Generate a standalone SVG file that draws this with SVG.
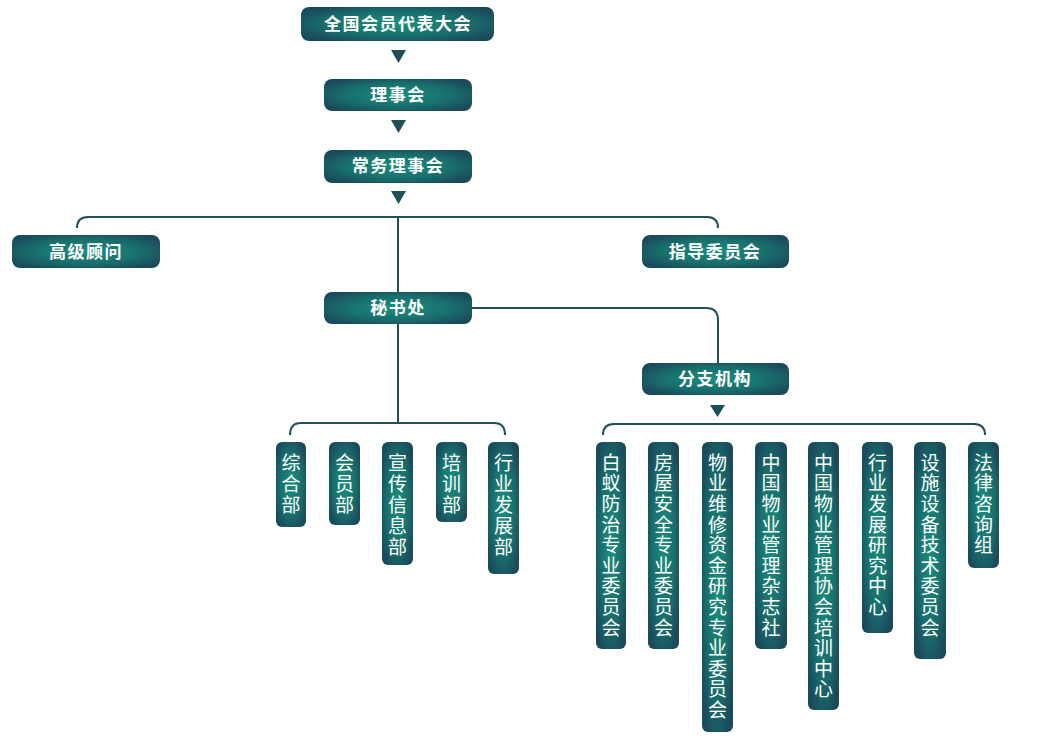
<svg xmlns="http://www.w3.org/2000/svg" width="1053" height="753" viewBox="0 0 1053 753">
<defs>
<radialGradient id="g" cx="0.5" cy="0.5" r="0.6">
<stop offset="0" stop-color="#1a8e7d"/>
<stop offset="0.6" stop-color="#196f6c"/>
<stop offset="1" stop-color="#1a4a5c"/>
</radialGradient>
<style>
.n{fill:url(#g);}
.t{fill:#fff;font-family:"Noto Sans CJK SC","Noto Sans",sans-serif;font-size:17px;font-weight:bold;letter-spacing:1.5px;text-anchor:middle;}
.v{fill:#fff;font-family:"Noto Sans CJK SC","Noto Sans",sans-serif;font-size:19px;font-weight:normal;writing-mode:vertical-rl;text-orientation:upright;text-anchor:start;}
.l{letter-spacing:2px;}
.r{letter-spacing:1.6px;}
.c{fill:none;stroke:#1f4f57;stroke-width:2;}
.a{fill:#1f4f57;}
</style>
</defs>
<rect width="1053" height="753" fill="#fff"/>
<g id="connectors">
<polygon class="a" points="391,50 406,50 398.5,63"/>
<polygon class="a" points="391,120 406,120 398.5,133"/>
<polygon class="a" points="391,191 406,191 398.5,204"/>
<polygon class="a" points="710,405 725,405 717.5,417"/>
<path class="c" d="M77,228 Q77,217 88,217 H707 Q718,217 718,228"/>
<path class="c" d="M398,217 V292"/>
<path class="c" d="M398,324 V423"/>
<path class="c" d="M290,435 Q290,423 301,423 H494 Q505,423 505,435"/>
<path class="c" d="M472,308 H706 Q718,308 718,320 V363"/>
<path class="c" d="M603,435 Q603,424 614,424 H974 Q985,424 985,435"/>
</g>
<g id="n1"><rect class="n" x="301" y="7" width="193" height="34" rx="8"/><text class="t" x="398" y="30">全国会员代表大会</text></g>
<g id="n2"><rect class="n" x="324" y="79" width="148" height="32" rx="8"/><text class="t" x="398" y="101">理事会</text></g>
<g id="n3"><rect class="n" x="324" y="150" width="148" height="33" rx="8"/><text class="t" x="398" y="172">常务理事会</text></g>
<g id="n4"><rect class="n" x="12" y="235" width="148" height="33" rx="8"/><text class="t" x="86" y="258">高级顾问</text></g>
<g id="n5"><rect class="n" x="642" y="235" width="147" height="33" rx="8"/><text class="t" x="715" y="258">指导委员会</text></g>
<g id="n6"><rect class="n" x="324" y="292" width="148" height="32" rx="8"/><text class="t" x="398" y="314">秘书处</text></g>
<g id="n7"><rect class="n" x="642" y="363" width="147" height="32" rx="8"/><text class="t" x="715" y="385">分支机构</text></g>

<g id="d1"><rect class="n" x="276" y="442" width="30" height="85" rx="6"/><text class="v l" x="291" y="453">综合部</text></g>
<g id="d2"><rect class="n" x="329" y="442" width="31" height="83" rx="6"/><text class="v l" x="344.5" y="453">会员部</text></g>
<g id="d3"><rect class="n" x="382" y="442" width="31" height="123" rx="6"/><text class="v l" x="397.5" y="453">宣传信息部</text></g>
<g id="d4"><rect class="n" x="436" y="442" width="31" height="80" rx="6"/><text class="v l" x="451.5" y="453">培训部</text></g>
<g id="d5"><rect class="n" x="488" y="442" width="31" height="132" rx="6"/><text class="v l" x="503.5" y="453">行业发展部</text></g>

<g id="b1"><rect class="n" x="596" y="442" width="30" height="207" rx="6"/><text class="v r" x="611" y="453">白蚁防治专业委员会</text></g>
<g id="b2"><rect class="n" x="648" y="442" width="31" height="207" rx="6"/><text class="v r" x="663.5" y="453">房屋安全专业委员会</text></g>
<g id="b3"><rect class="n" x="702" y="442" width="31" height="290" rx="6"/><text class="v r" x="717.5" y="453">物业维修资金研究专业委员会</text></g>
<g id="b4"><rect class="n" x="755" y="442" width="32" height="207" rx="6"/><text class="v r" x="771" y="453">中国物业管理杂志社</text></g>
<g id="b5"><rect class="n" x="808" y="442" width="31" height="268" rx="6"/><text class="v r" x="823.5" y="453">中国物业管理协会培训中心</text></g>
<g id="b6"><rect class="n" x="862" y="442" width="31" height="191" rx="6"/><text class="v r" x="877.5" y="453">行业发展研究中心</text></g>
<g id="b7"><rect class="n" x="914" y="442" width="32" height="217" rx="6"/><text class="v r" x="930" y="453">设施设备技术委员会</text></g>
<g id="b8"><rect class="n" x="968" y="442" width="31" height="126" rx="6"/><text class="v r" x="983.5" y="453">法律咨询组</text></g>
</svg>
